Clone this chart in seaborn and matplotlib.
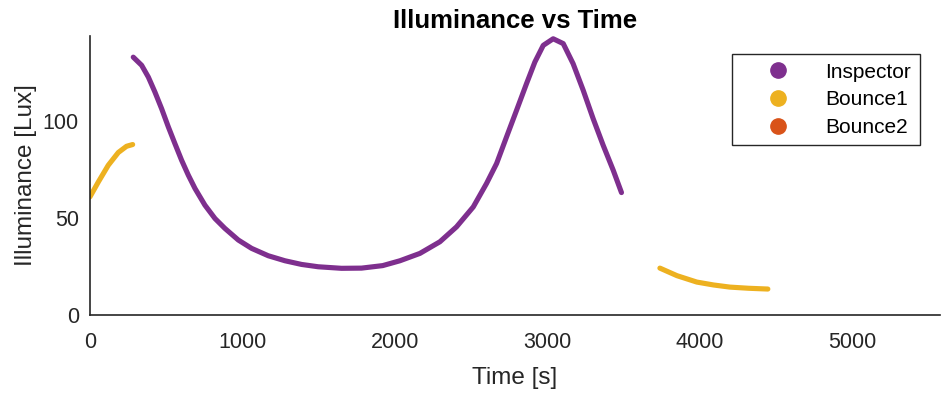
import matplotlib
matplotlib.use("Agg")
import matplotlib.pyplot as plt
from matplotlib.lines import Line2D
import pandas as pd
import seaborn as sns

# Measured illuminance samples, one list pair per continuous segment
inspector_t = [284, 339, 383, 426, 470, 514, 557, 601, 645, 689, 754, 820,
               885, 973, 1060, 1169, 1279, 1388, 1497, 1650, 1781, 1920,
               2033, 2164, 2295, 2404, 2514, 2601, 2667, 2732, 2798, 2863,
               2918, 2973, 3038, 3104, 3169, 3235, 3300, 3366, 3432, 3486]
inspector_lux = [133.1, 128.9, 122.8, 115.1, 106.5, 97.1, 88.5, 79.9, 72.2,
                 65.3, 56.7, 49.8, 44.7, 38.7, 34.4, 30.6, 28.0, 26.1, 24.9,
                 24.1, 24.2, 25.5, 28.0, 31.8, 37.8, 45.5, 55.8, 67.9, 78.2,
                 91.9, 105.7, 119.4, 130.6, 139.2, 142.6, 140.1, 129.7, 116.0,
                 101.4, 87.6, 74.7, 63.2]

bounce1a_t = [0, 55, 120, 186, 240, 280]
bounce1a_lux = [61.0, 68.7, 77.3, 83.9, 87.1, 88.0]

bounce1b_t = [3738, 3850, 3980, 4090, 4197, 4320, 4446]
bounce1b_lux = [24.2, 20.3, 17.0, 15.5, 14.4, 13.8, 13.4]

series_names = ["Inspector", "Bounce1", "Bounce2"]
series_colors = ["#7E2F8E", "#EDB120", "#D95319"]

segments = [
    ("Inspector", inspector_t, inspector_lux),
    ("Bounce1", bounce1a_t, bounce1a_lux),
    ("Bounce1", bounce1b_t, bounce1b_lux),
]

sns.set_style("white")
plt.rcParams["font.family"] = ["Liberation Sans", "DejaVu Sans"]
text_color = "#262626"

fig = plt.figure(figsize=(9.45, 3.94), dpi=100)
ax = fig.add_axes([0.0952, 0.2005, 0.8995, 0.708])

palette = dict(zip(series_names, series_colors))
for name, t, lux in segments:
    df = pd.DataFrame({"t": t, "lux": lux})
    sns.lineplot(data=df, x="t", y="lux", ax=ax, color=palette[name],
                 linewidth=3.7, sort=False, estimator=None,
                 solid_capstyle="round", solid_joinstyle="round")

ax.set_xlim(0, 5575)
ax.set_ylim(0, 144)
ax.set_xticks([0, 1000, 2000, 3000, 4000, 5000])
ax.set_yticks([0, 50, 100])

for side in ["top", "right"]:
    ax.spines[side].set_visible(False)
for side in ["left", "bottom"]:
    ax.spines[side].set_color(text_color)
    ax.spines[side].set_linewidth(1.2)

ax.tick_params(direction="in", length=6, width=1.2, colors=text_color,
               labelsize=15.5)
ax.tick_params(axis="x", pad=12)
ax.tick_params(axis="y", pad=8)

ax.set_xlabel("Time [s]", fontsize=17.5, color=text_color, labelpad=10)
ax.set_ylabel("Illuminance [Lux]", fontsize=17.5, color=text_color, labelpad=4)
ax.set_title("Illuminance vs Time", fontsize=18.5, fontweight="bold",
             color="black", pad=6)

handles = [Line2D([], [], linestyle="none", marker="o", markersize=11,
                  markerfacecolor=c, markeredgecolor=c) for c in series_colors]
leg = ax.legend(handles, series_names, loc="upper right",
                bbox_to_anchor=(0.976, 0.935), fontsize=15, frameon=True,
                fancybox=False, framealpha=1, edgecolor=text_color,
                handlelength=3.6, handletextpad=0.47, borderpad=0.4,
                labelspacing=0.42, borderaxespad=0)
leg.get_frame().set_linewidth(1.0)
for txt in leg.get_texts():
    txt.set_color("black")

fig.savefig("out.png", dpi=100)
